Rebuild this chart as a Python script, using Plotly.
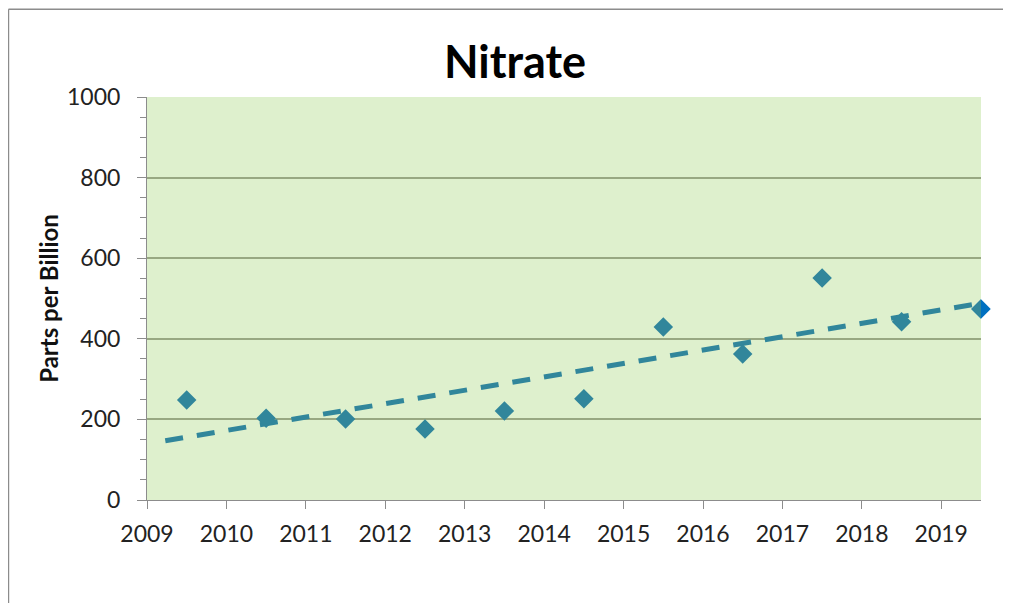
import plotly.graph_objects as go

# sample years (mid-year) and nitrate values, ppb
years = [2009.5, 2010.5, 2011.5, 2012.5, 2013.5, 2014.5, 2015.5, 2016.5, 2017.5, 2018.5, 2019.5]
nitrate = [248, 203, 201, 176, 221, 251, 429, 362, 551, 442, 474]

# linear trend endpoints as drawn
trend_x = [2009.23, 2019.4]
trend_y = [147, 485]

x_ticks = [2009, 2010, 2011, 2012, 2013, 2014, 2015, 2016, 2017, 2018, 2019]
y_ticks = [0, 200, 400, 600, 800, 1000]

teal = '#31869B'
font = 'Lato, Open Sans, sans-serif'

fig = go.Figure()

fig.add_trace(go.Scatter(
    x=trend_x, y=trend_y, mode='lines',
    line=dict(color=teal, width=5, dash='18px,14px'),
    hoverinfo='skip'
))

# last point: blue diamond underneath, visible only beyond plot edge
fig.add_trace(go.Scatter(
    x=years[-1:], y=nitrate[-1:], mode='markers',
    marker=dict(symbol='diamond', size=15, color='#0070C0'),
    cliponaxis=False
))

fig.add_trace(go.Scatter(
    x=years, y=nitrate, mode='markers',
    marker=dict(symbol='diamond', size=15, color=teal),
    cliponaxis=True
))

fig.update_xaxes(
    range=[2009, 2019.5], tickvals=x_ticks,
    showgrid=False, showline=True, linecolor='#8C8C8C', linewidth=1,
    ticks='outside', ticklen=8, tickcolor='#8C8C8C',
    ticklabelstandoff=5,
    tickfont=dict(size=23, color='#222', family=font),
    zeroline=False
)
fig.update_yaxes(
    range=[0, 1000], tickvals=y_ticks,
    showgrid=True, gridcolor='#98A882', gridwidth=1.5,
    showline=True, linecolor='#8C8C8C', linewidth=1,
    ticks='outside', ticklen=9, tickcolor='#8C8C8C',
    ticklabelstandoff=12,
    minor=dict(dtick=50, ticks='outside', ticklen=6, tickcolor='#8C8C8C', showgrid=False),
    tickfont=dict(size=23, color='#222', family=font),
    title=dict(text='<b>Parts per Billion</b>', font=dict(size=24, color='#111', family=font), standoff=1),
    zeroline=False
)

border = dict(color='#8C8C8C', width=1.5)
fig.update_layout(
    width=1003, height=595,
    margin=dict(l=139, r=30, t=89, b=103),
    paper_bgcolor='white', plot_bgcolor='#DEF0CD',
    showlegend=False,
    title=dict(text='<b>Nitrate</b>', x=507 / 1003, xanchor='center', y=1 - 54 / 595, yanchor='middle',
               font=dict(size=45, color='#000', family=font)),
    shapes=[
        dict(type='line', xref='paper', yref='paper', x0=-0.1661, x1=-0.1661, y0=-0.3, y1=1.218,
             line=border, layer='below'),
        dict(type='line', xref='paper', yref='paper', x0=-0.1661, x1=1.1, y0=1.218, y1=1.218,
             line=border, layer='below'),
    ]
)

fig.write_html("out.html")
